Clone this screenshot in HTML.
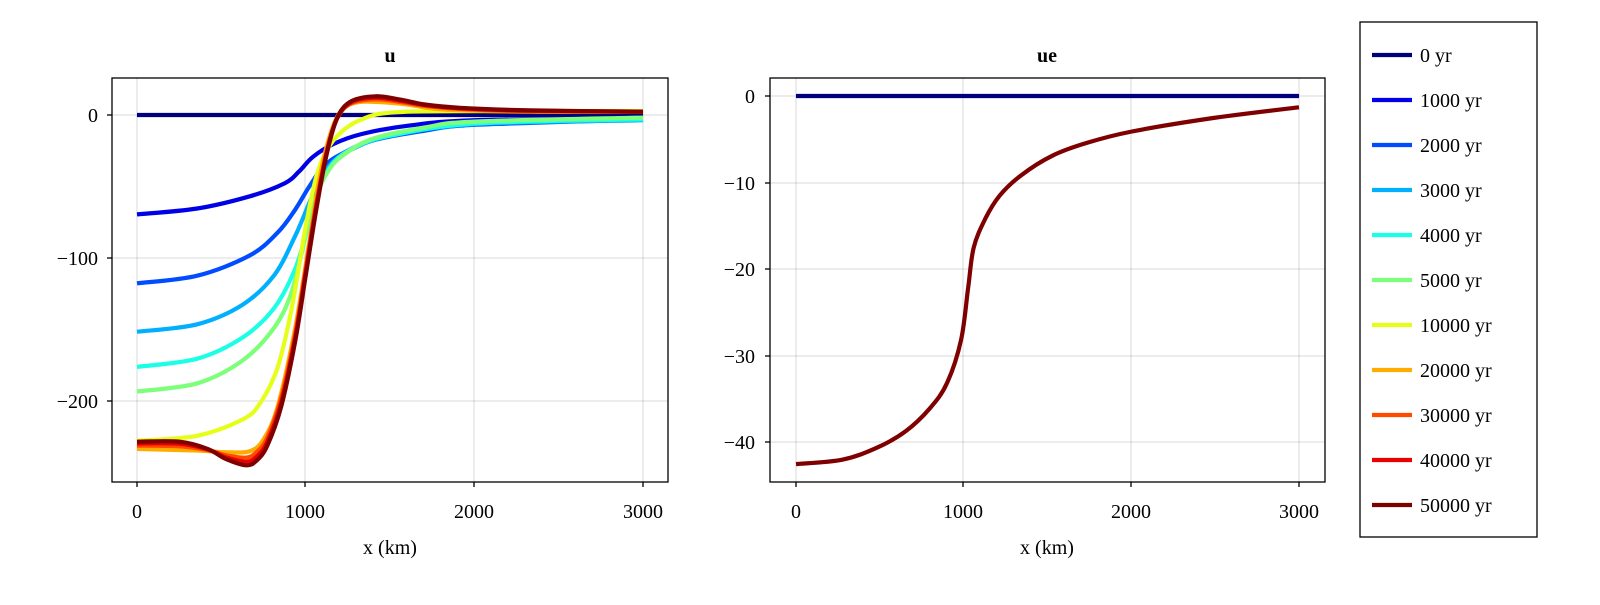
<!DOCTYPE html>
<html><head><meta charset="utf-8"><style>
body{margin:0;background:#fff}
svg text{font-family:"Liberation Serif","DejaVu Serif",serif;font-size:20px;fill:#000}
</style></head><body>
<svg id="s" width="1600" height="600" xmlns="http://www.w3.org/2000/svg">
<rect width="1600" height="600" fill="#fff"/>
<g stroke="#000" stroke-opacity="0.12" stroke-width="1.2">
<line x1="137" y1="78" x2="137" y2="482"/><line x1="305" y1="78" x2="305" y2="482"/><line x1="474" y1="78" x2="474" y2="482"/><line x1="643" y1="78" x2="643" y2="482"/>
<line x1="112" y1="115" x2="668" y2="115"/><line x1="112" y1="258" x2="668" y2="258"/><line x1="112" y1="401" x2="668" y2="401"/>
<line x1="796" y1="78" x2="796" y2="482"/><line x1="963" y1="78" x2="963" y2="482"/><line x1="1131" y1="78" x2="1131" y2="482"/><line x1="1299" y1="78" x2="1299" y2="482"/>
<line x1="770" y1="96" x2="1325" y2="96"/><line x1="770" y1="183" x2="1325" y2="183"/><line x1="770" y1="269" x2="1325" y2="269"/><line x1="770" y1="356" x2="1325" y2="356"/><line x1="770" y1="442" x2="1325" y2="442"/>
</g>
<g id="curves"></g>
<g fill="none" stroke="#000" stroke-width="1.3">
<rect x="112" y="78" width="556" height="404"/>
<rect x="770" y="78" width="555" height="404"/>
<rect x="1360" y="22" width="177" height="515"/>
</g>
<g stroke="#000" stroke-width="1.3">
<line x1="137" y1="482" x2="137" y2="487"/><line x1="305" y1="482" x2="305" y2="487"/><line x1="474" y1="482" x2="474" y2="487"/><line x1="643" y1="482" x2="643" y2="487"/>
<line x1="107" y1="115" x2="112" y2="115"/><line x1="107" y1="258" x2="112" y2="258"/><line x1="107" y1="401" x2="112" y2="401"/>
<line x1="796" y1="482" x2="796" y2="487"/><line x1="963" y1="482" x2="963" y2="487"/><line x1="1131" y1="482" x2="1131" y2="487"/><line x1="1299" y1="482" x2="1299" y2="487"/>
<line x1="765" y1="96" x2="770" y2="96"/><line x1="765" y1="183" x2="770" y2="183"/><line x1="765" y1="269" x2="770" y2="269"/><line x1="765" y1="356" x2="770" y2="356"/><line x1="765" y1="442" x2="770" y2="442"/>
</g>
<g text-anchor="middle">
<text x="137" y="518">0</text><text x="305" y="518">1000</text><text x="474" y="518">2000</text><text x="643" y="518">3000</text>
<text x="796" y="518">0</text><text x="963" y="518">1000</text><text x="1131" y="518">2000</text><text x="1299" y="518">3000</text>
<text x="390" y="554">x (km)</text><text x="1047" y="554">x (km)</text>
<text x="390" y="62" font-weight="bold">u</text><text x="1047" y="62" font-weight="bold">ue</text>
</g>
<g text-anchor="end">
<text x="98" y="122">0</text><text x="98" y="265">−100</text><text x="98" y="408">−200</text>
<text x="755" y="103">0</text><text x="755" y="190">−10</text><text x="755" y="276">−20</text><text x="755" y="363">−30</text><text x="755" y="449">−40</text>
</g>
<g id="leg"></g>
</svg>
<script>
var NS="http://www.w3.org/2000/svg";
function zl(p){return p.map(function(q){return [(q[0]-78)/1445*3000,(q[1]-112)/-4.36];});}
var cols=["#00007f","#0000e6","#004cff","#00b0ff","#1affe6","#7dff7a","#e6ff1a","#ffac00","#ff4a00","#e60000","#7f0000"];
var labels=["0 yr","1000 yr","2000 yr","3000 yr","4000 yr","5000 yr","10000 yr","20000 yr","30000 yr","40000 yr","50000 yr"];
var S={};
S[0]=[[78,112],[1523,112]];
S[1]=[[78,415],[250,397],[400,360],[500,320],[540,285],[580,240],[640,200],[720,170],[850,145],[1042,128],[1523,122]];
S[2]=[[78,625],[250,602],[400,540],[480,470],[530,400],[570,330],[610,270],[660,232],[750,190],[900,160],[1042,142],[1523,126]];
S[3]=[[78,773],[250,750],[380,690],[470,600],[530,480],[570,380],[600,310],[640,252],[700,212],[800,176],[1042,140],[1523,128]];
S[4]=[[78,880],[250,855],[380,790],[470,700],[530,580],[570,440],[600,330],[640,256],[700,210],[800,175],[1042,138],[1523,125]];
S[5]=[[78,955],[250,930],[380,860],[470,760],[520,650],[560,480],[590,360],[620,290],[660,240],[750,185],[900,150],[1042,132],[1523,120]];
S[6]=[[78,1105],[250,1090],[380,1040],[430,990],[480,880],[520,700],[560,450],[590,300],[620,220],[660,165],[720,125],[800,105],[1000,100],[1523,100]];
S[7]=[[78,1130],[250,1135],[330,1140],[400,1137],[440,1100],[480,1000],[530,760],[570,500],[600,300],[630,170],[660,100],[700,75],[760,72],[850,80],[950,95],[1200,102],[1523,102]];
S[10]=[[78,1108],[200,1108],[280,1130],[330,1160],[390,1180],[420,1165],[450,1120],[490,1000],[530,800],[560,600],[590,400],[620,230],[650,120],[690,70],[760,55],[830,65],[900,80],[1000,90],[1200,98],[1523,102]];
function mix(a,b,t){var x=[78,200,280,330,390,420,450,490,530,560,590,620,650,690,760,830,900,1000,1200,1523];
 function at(s,z){for(var i=0;i<s.length-1;i++){if(z<=s[i+1][0]){var u=(z-s[i][0])/(s[i+1][0]-s[i][0]);return s[i][1]+u*(s[i+1][1]-s[i][1]);}}return s[s.length-1][1];}
 return x.map(function(z){return [z,at(a,z)*(1-t)+at(b,z)*t];});}
S[8]=mix(S[7],S[10],0.45);S[9]=mix(S[7],S[10],0.75);
function path(pts){var d="M"+pts[0][0].toFixed(1)+","+pts[0][1].toFixed(1);
 for(var i=0;i<pts.length-1;i++){var p0=pts[Math.max(0,i-1)],p1=pts[i],p2=pts[i+1],p3=pts[Math.min(pts.length-1,i+2)];
 d+=" C"+(p1[0]+(p2[0]-p0[0])/6).toFixed(1)+","+(p1[1]+(p2[1]-p0[1])/6).toFixed(1)+" "+(p2[0]-(p3[0]-p1[0])/6).toFixed(1)+","+(p2[1]-(p3[1]-p1[1])/6).toFixed(1)+" "+p2[0].toFixed(1)+","+p2[1].toFixed(1);}
 return d;}
var g=document.getElementById("curves");
function add(pts,c,w){var p=document.createElementNS(NS,"path");p.setAttribute("d",path(pts));p.setAttribute("fill","none");p.setAttribute("stroke",c);p.setAttribute("stroke-width",w||4.2);p.setAttribute("stroke-linejoin","round");g.appendChild(p);}
for(var k=0;k<11;k++){var d=zl(S[k]).map(function(q){return [137+q[0]*0.16867,115-q[1]*1.43];});add(d,cols[k]);}
var ue=[[0,-42.5],[276,-42.0],[484,-40.6],[651,-38.75],[797,-36.1],[902,-33.1],[985,-28.1],[1027,-22.1],[1060,-17.5],[1131,-14.1],[1215,-11.5],[1340,-9.2],[1528,-6.9],[1737,-5.4],[2004,-4.1],[2468,-2.6],[3000,-1.3]];
function R(q){return [796+q[0]*0.16767,96-q[1]*8.66];}
add([[0,0],[3000,0]].map(R),cols[0]);
add(ue.map(R),cols[10]);
var L=document.getElementById("leg");
for(var k=0;k<11;k++){var y=55+k*45;var l=document.createElementNS(NS,"line");l.setAttribute("x1",1372);l.setAttribute("x2",1412);l.setAttribute("y1",y);l.setAttribute("y2",y);l.setAttribute("stroke",cols[k]);l.setAttribute("stroke-width",4.2);L.appendChild(l);
var t=document.createElementNS(NS,"text");t.setAttribute("x",1420);t.setAttribute("y",y+7);t.textContent=labels[k];L.appendChild(t);}
</script>
</body></html>
